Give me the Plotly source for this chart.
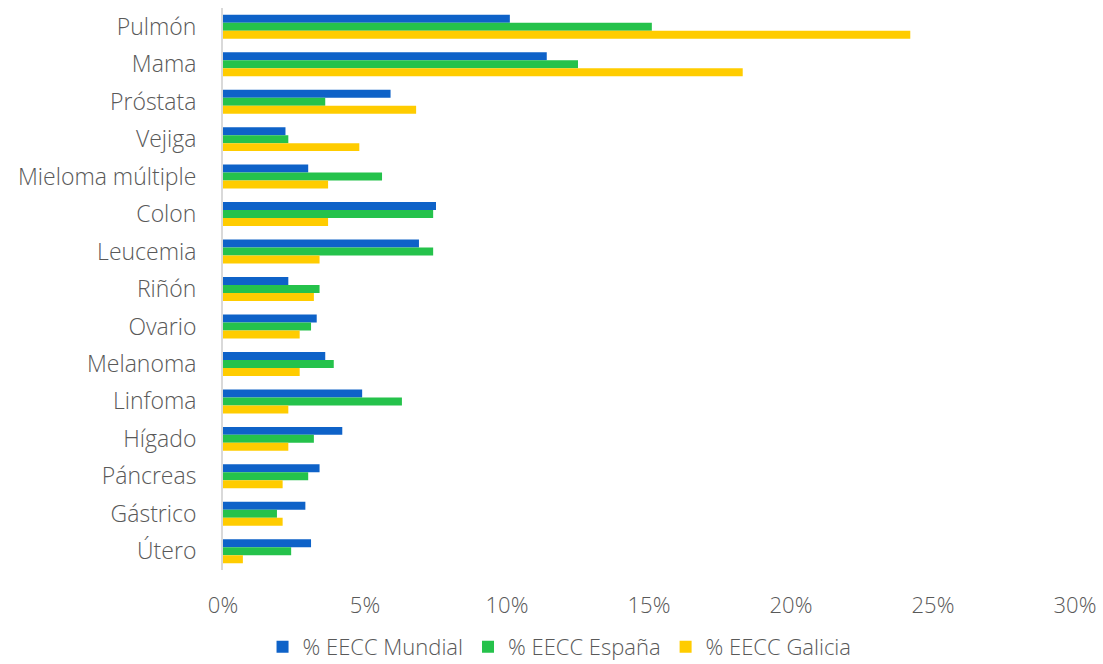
import plotly.graph_objects as go

categorias = ["Pulmón", "Mama", "Próstata", "Vejiga", "Mieloma múltiple", "Colon",
              "Leucemia", "Riñón", "Ovario", "Melanoma", "Linfoma", "Hígado",
              "Páncreas", "Gástrico", "Útero"]

mundial = [10.1, 11.4, 5.9, 2.2, 3.0, 7.5, 6.9, 2.3, 3.3, 3.6, 4.9, 4.2, 3.4, 2.9, 3.1]
espana = [15.1, 12.5, 3.6, 2.3, 5.6, 7.4, 7.4, 3.4, 3.1, 3.9, 6.3, 3.2, 3.0, 1.9, 2.4]
galicia = [24.2, 18.3, 6.8, 4.8, 3.7, 3.7, 3.4, 3.2, 2.7, 2.7, 2.3, 2.3, 2.1, 2.1, 0.7]

series = [
    ("% EECC Mundial", mundial, "#0E62C8"),
    ("% EECC España", espana, "#25C24B"),
    ("% EECC Galicia", galicia, "#FFCC00"),
]

fig = go.Figure()
for nombre, valores, color in series:
    fig.add_trace(go.Bar(
        y=categorias, x=[v / 100 for v in valores], name=nombre,
        orientation="h", marker=dict(color=color, line=dict(width=0)),
    ))

font_family = "'Open Sans', Lato, sans-serif"
gris = "#595959"
fig.update_layout(
    width=1103, height=664,
    barmode="group", bargap=0.36, bargroupgap=0,
    plot_bgcolor="white", paper_bgcolor="white",
    margin=dict(l=223, r=28, t=8, b=94, autoexpand=False),
    font=dict(family=font_family, color=gris, size=20, weight=300),
    legend=dict(orientation="h", x=0.395, xanchor="center", y=-0.137, yanchor="middle",
                font=dict(size=22, color=gris, weight=300), itemwidth=30,
                traceorder="normal", tracegroupgap=0),
    xaxis=dict(range=[0, 0.30], dtick=0.05, tickformat=".0%", showgrid=False,
               zeroline=False, showline=False, ticks="", ticklabelstandoff=20,
               tickfont=dict(size=22, color=gris, weight=300)),
    yaxis=dict(autorange="reversed", showgrid=False, zeroline=False,
               showline=True, linecolor="#D9D9D9", linewidth=2, ticks="",
               ticklabelstandoff=20, tickfont=dict(size=23, color=gris, weight=300)),
)

fig.write_html("out.html")
